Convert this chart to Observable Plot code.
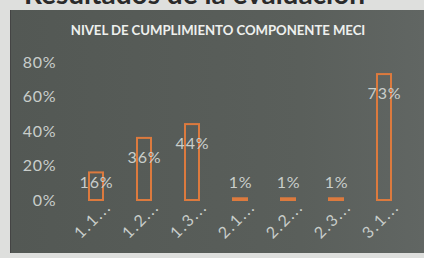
<!DOCTYPE html>
<html>
<head>
<meta charset="utf-8">
<script src="https://cdn.jsdelivr.net/npm/d3@7"></script>
<script src="https://cdn.jsdelivr.net/npm/@observablehq/plot@0.6"></script>
<style>
  html, body { margin: 0; padding: 0; }
  body { width: 424px; height: 258px; overflow: hidden; background: #dedfdd; position: relative; font-family: Lato, "Open Sans", sans-serif; }
  #head { position: absolute; left: 0; top: 0; width: 424px; height: 9px; overflow: hidden; }
  #head span { position: absolute; left: 24px; top: -24px; font: bold 28px Lato, sans-serif; color: #2a2a2a; white-space: nowrap; }
  #panel { position: absolute; left: 10px; top: 10px; width: 414px; height: 243px; background: linear-gradient(to right, #535854, #5a5f5b 70%, #616663); border-left: 1px solid #444; }
  #title { position: absolute; left: 0; width: 414px; top: 12px; text-align: center; color: #eef0ee; font: bold 13.2px Lato, sans-serif; letter-spacing: -0.05px; }
  #chart { position: absolute; left: 0; top: 40px; }
  #chart text { letter-spacing: 0.8px; }
  #chart g[aria-label="x-axis tick label"] text { letter-spacing: 1.8px; }
</style>
</head>
<body>
<div id="head"><span>Resultados de la evaluación</span></div>
<div id="panel">
  <div id="title">NIVEL DE CUMPLIMIENTO COMPONENTE MECI</div>
  <div id="chart"></div>
</div>
<script>
const categories = ["1.1...", "1.2...", "1.3...", "2.1...", "2.2...", "2.3...", "3.1..."];
const values = [16, 36, 44, 1, 1, 1, 73];
const yTicks = [0, 20, 40, 60, 80];

const data = categories.map((c, i) => ({cat: c, v: values[i]}));
const labelColor = "#c9cecb";

const plot = Plot.plot({
  width: 414,
  height: 200,
  marginTop: 12,
  marginBottom: 50,
  marginLeft: 61,
  marginRight: 17,
  style: {background: "transparent", fontFamily: "Lato, sans-serif", fontSize: "16px", color: labelColor},
  x: {domain: categories, paddingInner: 0.7, paddingOuter: 0.35, label: null},
  y: {domain: [0, 80], label: null},
  marks: [
    Plot.barY(data, {x: "cat", y: "v", fill: "none", stroke: "#dc7a3e", strokeWidth: 2}),
    Plot.text(data.filter(d => d.v >= 30), {x: "cat", y: "v", text: d => d.v + "%", dy: 19, fill: labelColor, fontSize: 16}),
    Plot.text(data.filter(d => d.v >= 5 && d.v < 30), {x: "cat", y: "v", text: d => d.v + "%", dy: 10, fill: labelColor, fontSize: 16}),
    Plot.text(data.filter(d => d.v < 5), {x: "cat", y: "v", text: d => d.v + "%", dy: -16, fill: labelColor, fontSize: 16}),
    Plot.axisY({ticks: yTicks, tickFormat: d => d + "%", tickSize: 0, tickPadding: 8, dx: -8, fontSize: 16, fill: labelColor, label: null}),
    Plot.axisX({tickSize: 0, tickRotate: -45, tickPadding: 4, dx: 12, fontSize: 16, fill: labelColor, label: null})
  ]
});
document.getElementById("chart").appendChild(plot);
</script>
</body>
</html>
